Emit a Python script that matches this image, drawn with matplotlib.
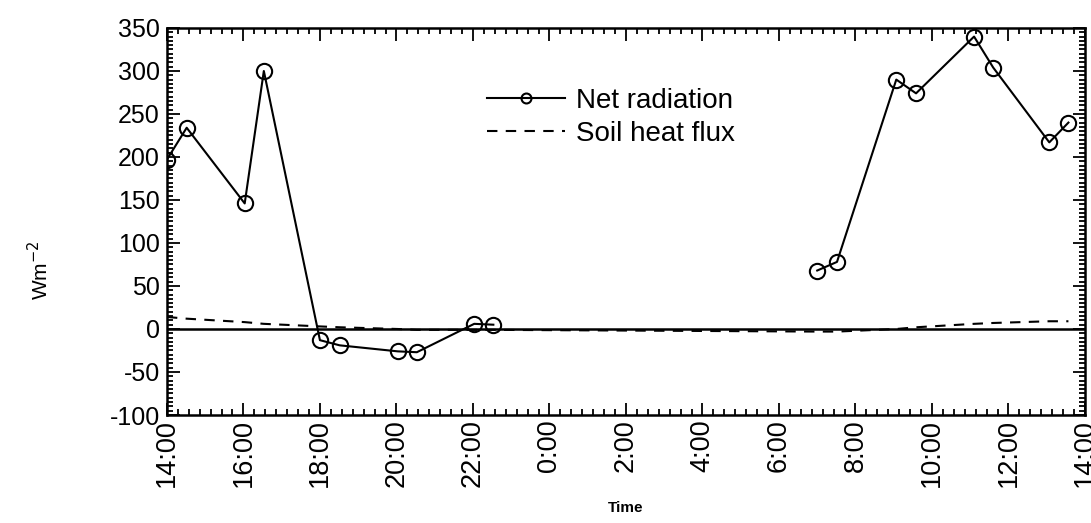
import matplotlib.pyplot as plt
from matplotlib.ticker import MultipleLocator, AutoMinorLocator, FuncFormatter

plt.rcParams['font.family'] = ['Liberation Sans', 'DejaVu Sans']
plt.rcParams['axes.unicode_minus'] = False

# observation times (local clock), starting 14:00 and running to 13:30 next day
times = ['14:00', '14:31', '16:02', '16:32', '18:00', '18:31', '20:02', '20:32',
         '22:02', '22:32', '07:00', '07:31', '09:04', '09:35', '11:06', '11:36',
         '13:04', '13:34']
net_radiation = [197, 234, 146, 300, -13, -19, -26, -27, 6, 5,
                 68, 78, 290, 274, 340, 304, 217, 240]
soil_heat_flux = [14, 12, 8, 6, 3, 2, 0, -1, -1, -1,
                  -3, -3, 0, 2, 6, 7, 9, 9]
night_break = 10  # no net radiation between 22:30 and 07:00

start_hour = 14


def hours_after_start(t):
    h, m = t.split(':')
    return (int(h) + int(m) / 60 - start_hour) % 24


x = [hours_after_start(t) for t in times]

fig = plt.figure(figsize=(10.91, 5.23), dpi=100)
ax = fig.add_axes([0.153, 0.2065, 0.8415, 0.74])

style = dict(color='k', lw=1.5, marker='o', ms=11, mfc='none', mew=1.5)
ax.plot(x[:night_break], net_radiation[:night_break], label='Net radiation', **style)
ax.plot(x[night_break:], net_radiation[night_break:], **style)
ax.plot(x, soil_heat_flux, color='k', lw=1.5, ls='--', dashes=(5, 4),
        label='Soil heat flux')
ax.axhline(0, color='k', lw=1.8)

ax.set_xlim(0, 24)
ax.set_ylim(-100, 350)
ax.xaxis.set_major_locator(MultipleLocator(2))
ax.xaxis.set_minor_locator(AutoMinorLocator(7))
ax.xaxis.set_major_formatter(FuncFormatter(lambda v, p: f'{int(start_hour + v) % 24}:00'))
ax.yaxis.set_major_locator(MultipleLocator(50))
ax.yaxis.set_minor_locator(AutoMinorLocator(10))

ax.tick_params(which='both', direction='in', top=True, right=True, width=1.3)
ax.tick_params(which='major', length=9)
ax.tick_params(which='minor', length=4)
ax.tick_params(axis='y', labelsize=18, pad=5)
ax.tick_params(axis='x', labelsize=19.5, pad=3, labelrotation=90)
for s in ax.spines.values():
    s.set_linewidth(1.8)

ax.set_xlabel('Time', fontsize=11, fontweight='bold', labelpad=10)
ax.set_ylabel('Wm$^{-2}$', fontsize=15)
ax.yaxis.set_label_coords(-0.125, 0.375)

leg = ax.legend(loc='upper left', bbox_to_anchor=(0.349, 0.845), frameon=False,
                fontsize=20, handlelength=2.8, handletextpad=0.4, labelspacing=0.25,
                borderpad=0, borderaxespad=0, markerscale=0.65)

fig.savefig('out.png', dpi=100)
